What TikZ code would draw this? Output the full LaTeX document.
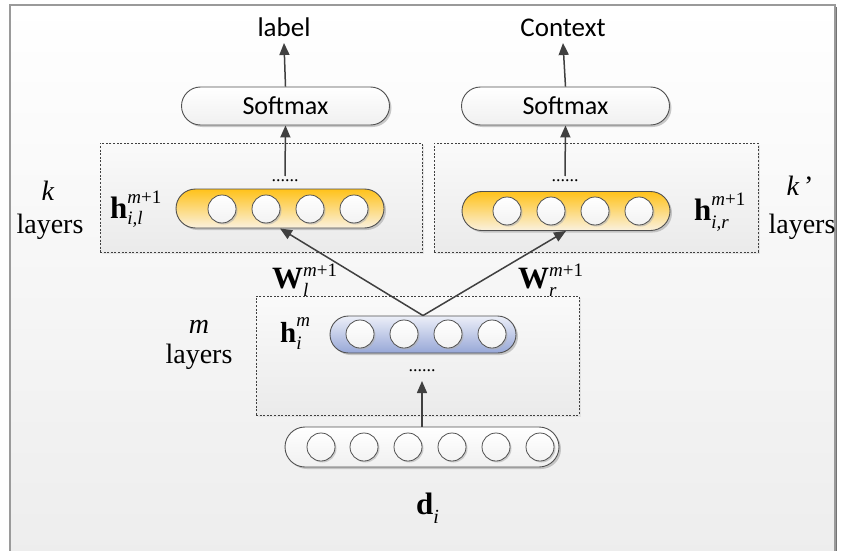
\documentclass[tikz,border=0pt]{standalone}
\usepackage{fontspec}
\setmainfont{Liberation Serif}
\newfontfamily\calib{Carlito}
\usetikzlibrary{arrows.meta,shapes.misc,shadows}
\definecolor{arr}{HTML}{404040}
\definecolor{edge}{HTML}{505050}
\definecolor{bgbot}{HTML}{EDEDED}
\definecolor{frm}{HTML}{9A9A9A}
\definecolor{ytop}{HTML}{FFC21A}
\definecolor{ybot}{HTML}{FAF1DF}
\definecolor{btop}{HTML}{ECEFF8}
\definecolor{bbot}{HTML}{97A7D7}
\newcommand{\symsb}[6]{{\fontsize{#1}{#1}\selectfont\bfseries #2}\makebox[0pt][l]{\raisebox{#5}{\fontsize{19}{19}\selectfont #3}}\raisebox{-#6}{\fontsize{19}{19}\selectfont\itshape #4}}
\tikzset{
  dbox/.style={draw=black!75, dash pattern=on 2pt off 1.6pt, line width=0.6pt,
    top color=white!98!black, bottom color=black!8, inner sep=0pt,
    drop shadow={shadow xshift=2pt, shadow yshift=-2pt, fill=black!15, opacity=0.6}},
  pill/.style={rounded rectangle, draw=edge, line width=0.9pt, inner sep=0pt,
    drop shadow={shadow xshift=2pt, shadow yshift=-2pt, fill=black!35, opacity=0.6}},
  ypill/.style={pill, top color=ytop, bottom color=ybot, minimum width=208pt, minimum height=39pt},
  bpill/.style={pill, top color=btop, bottom color=bbot, minimum width=186pt, minimum height=37pt},
  wpill/.style={pill, top color=white, bottom color=black!6, minimum width=274pt, minimum height=40pt},
  smax/.style={pill, top color=white, bottom color=black!6, minimum width=208pt, minimum height=38pt,
    font=\calib\fontsize{26}{26}\selectfont},
  cell/.style={circle, draw=edge, line width=0.8pt, minimum size=28pt, inner sep=0pt,
    top color=white, bottom color=black!5,
    drop shadow={shadow xshift=1.5pt, shadow yshift=-1.5pt, fill=black!30, opacity=0.6}},
  arrow/.style={draw=arr, line width=1.5pt, -{Triangle[length=12pt,width=10pt]}},
  ttl/.style={anchor=base, font=\calib\fontsize{27}{27}\selectfont, inner sep=0pt},
  tm/.style={anchor=base, font=\fontsize{28}{28}\selectfont, inner sep=0pt},
  sym/.style={anchor=base west, inner sep=0pt},
  dots/.style={inner sep=0pt, font=\fontsize{18}{18}\selectfont}
}
\begin{document}
\begin{tikzpicture}[x=1pt,y=-1pt]
\useasboundingbox (0,0) rectangle (843,551);
% frame
\fill[top color=white, bottom color=bgbot] (10,5) rectangle (835,560);
\draw[black!55, line width=1.2pt] (836.5,7) -- (836.5,560);
\draw[frm, line width=1.5pt] (10,560) -- (10,5) -- (835,5) -- (835,560);

% dashed boxes
\node[dbox, minimum width=322pt, minimum height=109pt] (lbox) at (261,197.5) {};
\node[dbox, minimum width=324pt, minimum height=109pt] (rbox) at (596,197.5) {};
\node[dbox, minimum width=323pt, minimum height=119pt] (mbox) at (417.5,355.5) {};

% titles
\node[ttl] (lab) at (284,37) {label};
\node[ttl] (ctx) at (563,37) {Context};

% softmax
\node[smax] (sl) at (285.5,106) {Softmax};
\node[smax] (sr) at (565.5,106) {Softmax};

% yellow pills
\node[ypill] (yl) at (280,208.5) {};
\foreach \x [count=\i] in {222,266,310,354} \node[cell] (yl\i) at (\x,209) {};
\node[ypill] (yr) at (566,211) {};
\foreach \x [count=\i] in {507,551,595,639} \node[cell] (yr\i) at (\x,211) {};

% blue pill
\node[bpill] (bp) at (423,334.5) {};
\foreach \x [count=\i] in {360,404,448,492} \node[cell] (bp\i) at (\x,334) {};

% bottom pill
\node[wpill] (dp) at (422,447) {};
\foreach \x [count=\i] in {321,364,408,452,496,540} \node[cell] (dp\i) at (\x,447) {};

% dots
\node[dots] (dl) at (285,181) {......};
\node[dots] (dr) at (565,181) {......};
\node[dots] (dm) at (422,371) {......};

% arrows
\coordinate (dlt) at (285,176);
\coordinate (drt) at (565,176);
\coordinate (dmb) at (422,381);
\draw[arrow] (sl.north) -- (lab.south |- 0,43);
\draw[arrow] (sr.north) -- (ctx.south |- 0,43);
\draw[arrow] (dlt) -- (sl.south);
\draw[arrow] (drt) -- (sr.south);
\draw[arrow] (dp.north -| dmb) -- (dmb);
\draw[arrow] (bp.north) -- (yl.south);
\draw[arrow] (bp.north) -- (yr.south);

% symbols
\node[sym] (hl) at (110,218) {\symsb{31}{h}{\textit{m}+1}{i,l}{15pt}{6pt}};
\node[sym] (hr) at (694,220) {\symsb{31}{h}{\textit{m}+1}{i,r}{15pt}{8pt}};
\node[sym] (hm) at (280,342) {\symsb{29}{h}{\textit{m}}{i}{16pt}{7pt}};
\node[sym] (wl) at (272,288) {\symsb{31}{W}{\textit{m}+1}{l}{12pt}{8pt}};
\node[sym] (wr) at (518,288) {\symsb{31}{W}{\textit{m}+1}{r}{12pt}{8pt}};
\node[sym] (di) at (416,514) {{\fontsize{31}{31}\selectfont\bfseries d}\raisebox{-9pt}{\fontsize{20}{20}\selectfont\itshape i}};

% layer labels
\node[tm] (kl) at (48,200) {\textit{k}};
\node[tm] (kll) at (50,233) {layers};
\node[tm] (kr) at (800,195) {\textit{k}\,’};
\node[tm] (krl) at (802,233) {layers};
\node[tm] (ml) at (199,333) {\textit{m}};
\node[tm] (mll) at (199,363) {layers};
\end{tikzpicture}
\end{document}
